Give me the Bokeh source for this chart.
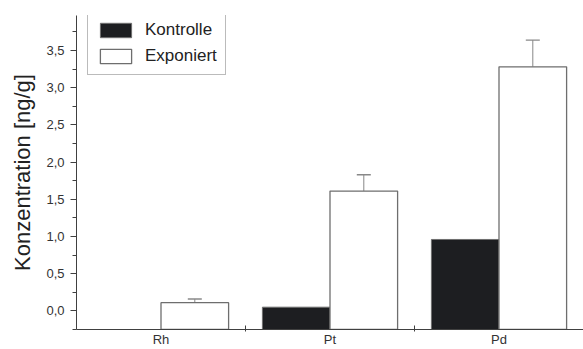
from bokeh.plotting import figure
from bokeh.models import (FixedTicker, Legend, LegendItem, Whisker, ColumnDataSource,
                          CustomJSTickFormatter, Range1d, TeeHead)
from bokeh.embed import file_html
from bokeh.resources import INLINE

categories = ["Rh", "Pt", "Pd"]
kontrolle = [None, 0.05, 0.96]
exponiert = [0.11, 1.61, 3.28]
exponiert_err = [0.05, 0.22, 0.36]
y_ticks = [0.0, 0.5, 1.0, 1.5, 2.0, 2.5, 3.0, 3.5, 4.0]

Y0, Y1 = -0.25, 3.97
BW = 0.4

p = figure(width=583, height=349, output_backend="svg", toolbar_location=None,
           x_range=Range1d(0, len(categories)), y_range=Range1d(Y0, Y1),
           min_border_left=76, min_border_right=0, min_border_top=15, min_border_bottom=20)
p.outline_line_color = None
p.grid.grid_line_color = None
p.background_fill_color = "white"

# bars
k_x = [i + 0.5 - BW / 2 for i, v in enumerate(kontrolle) if v is not None]
k_top = [v for v in kontrolle if v is not None]
e_x = [i + 0.5 + BW / 2 for i in range(len(categories))]

rk = p.vbar(x=k_x, top=k_top, bottom=Y0, width=BW, fill_color="#1d1e21",
            line_color="#6e6e6e", line_width=1)
re = p.vbar(x=e_x, top=exponiert, bottom=Y0, width=BW, fill_color="white",
            line_color="#6e6e6e", line_width=1.3)

src = ColumnDataSource(dict(x=e_x, lo=exponiert,
                            hi=[v + e for v, e in zip(exponiert, exponiert_err)]))
w = Whisker(base="x", lower="lo", upper="hi", source=src, dimension="height",
            line_color="#888888", line_width=1,
            upper_head=TeeHead(size=14, line_color="#888888", line_width=1.3),
            lower_head=None)
p.add_layout(w)

# x axis: labels at centers, separators at boundaries
xa = p.xaxis[0]
xa.ticker = FixedTicker(ticks=[i + 0.5 for i in range(len(categories))],
                        minor_ticks=list(range(1, len(categories))))
xa.major_label_overrides = {i + 0.5: c for i, c in enumerate(categories)}
xa.major_tick_line_color = None
xa.major_tick_out = 0
xa.major_tick_in = 0
xa.minor_tick_in = 4
xa.minor_tick_out = 2
xa.minor_tick_line_color = "#404040"
xa.axis_line_color = "#404040"
xa.major_label_standoff = 0
xa.major_label_text_font = "Liberation Sans"
xa.major_label_text_font_size = "13px"
xa.major_label_text_color = "#333333"

ya = p.yaxis[0]
ya.ticker = FixedTicker(ticks=y_ticks,
                        minor_ticks=[t + 0.25 for t in [-0.5] + y_ticks])
ya.formatter = CustomJSTickFormatter(code="return tick.toFixed(1).replace('.', ',');")
ya.axis_line_color = "#404040"
ya.major_tick_line_color = "#404040"
ya.minor_tick_line_color = "#404040"
ya.major_tick_in = 0
ya.major_tick_out = 6
ya.minor_tick_in = 0
ya.minor_tick_out = 4
ya.major_label_standoff = 6
ya.major_label_text_font = "Liberation Sans"
ya.major_label_text_font_size = "13px"
ya.major_label_text_color = "#333333"
ya.axis_label = "Konzentration [ng/g]"
ya.axis_label_text_font = "Liberation Sans"
ya.axis_label_text_font_size = "22px"
ya.axis_label_text_font_style = "normal"
ya.axis_label_text_color = "#222222"
ya.axis_label_standoff = 8

legend = Legend(items=[LegendItem(label="Kontrolle", renderers=[rk]),
                       LegendItem(label="Exponiert", renderers=[re])],
                location=(11, 254), glyph_width=39, glyph_height=18,
                label_text_font="Liberation Sans", label_text_font_size="17px",
                label_text_color="#222222", spacing=6, padding=8, margin=0,
                label_standoff=10, border_line_color="#777777", border_line_width=1.3,
                background_fill_alpha=1)
p.add_layout(legend)

open("out.html", "w").write(file_html(p, INLINE))
